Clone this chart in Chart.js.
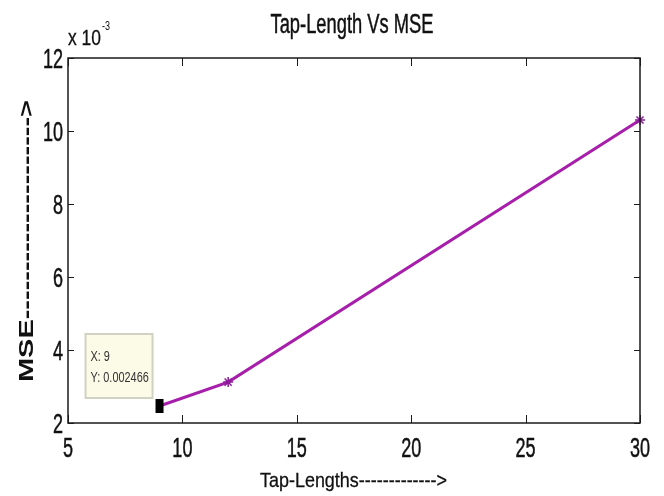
<!DOCTYPE html>
<html><head><meta charset="utf-8">
<script src="https://cdn.jsdelivr.net/npm/chart.js@4"></script>
<style>html,body{margin:0;padding:0;background:#fff}canvas{display:block}</style>
</head><body><canvas id="c" width="664" height="496"></canvas>
<script>
const tapLengths = [9, 12, 30];
const mseValues = [0.002466, 0.00312, 0.01030];
const xTicks = [5, 10, 15, 20, 25, 30];
const yTicks = [0.002, 0.004, 0.006, 0.008, 0.010, 0.012];
const yTickLabels = ['2', '4', '6', '8', '10', '12'];
const titleText = 'Tap-Length Vs MSE';
const xTitle = 'Tap-Lengths------------->';
const yTitle = 'MSE--------------------->';
const expBase = 'x 10', expSup = '-3';
const tipIndex = 0;
const tipLines = ['X: ' + tapLengths[tipIndex], 'Y: ' + mseValues[tipIndex]];

const FONT = '"Liberation Sans", Arial, sans-serif';
function drawText(ctx, s, x, y, o) {
  ctx.save();
  ctx.translate(x, y);
  if (o.rot) ctx.rotate(o.rot);
  ctx.scale(o.sx || 1, o.sy || 1);
  ctx.font = (o.bold ? 'bold ' : '') + o.size + 'px ' + FONT;
  ctx.textAlign = o.align || 'left';
  ctx.textBaseline = 'alphabetic';
  ctx.fillStyle = o.color || '#111';
  ctx.fillText(s, 0, 0);
  if (o.heavy) { ctx.strokeStyle = o.color || '#111'; ctx.lineWidth = o.heavy; ctx.strokeText(s, 0, 0); }
  ctx.restore();
}
function fitText(ctx, s, x, y, width, cap, o) {
  const size = cap / 0.716;
  ctx.save();
  ctx.font = (o.bold ? 'bold ' : '') + size + 'px ' + FONT;
  const w = ctx.measureText(s).width;
  ctx.restore();
  drawText(ctx, s, x, y, Object.assign({}, o, {size: size, sx: width / w, sy: 1}));
}

const decor = {
  id: 'decor',
  afterDraw(chart) {
    const ctx = chart.ctx, a = chart.chartArea;
    const xs = chart.scales.x, ys = chart.scales.y;
    ctx.save();
    ctx.strokeStyle = '#1a1a1a';
    ctx.lineWidth = 1.5;
    ctx.strokeRect(a.left, a.top, a.right - a.left, a.bottom - a.top);
    ctx.lineWidth = 1;
    ctx.beginPath();
    xTicks.forEach(v => {
      const px = Math.round(xs.getPixelForValue(v)) + 0.5;
      ctx.moveTo(px, a.bottom); ctx.lineTo(px, a.bottom - 8);
      ctx.moveTo(px, a.top); ctx.lineTo(px, a.top + 8);
    });
    yTicks.forEach(v => {
      const py = Math.round(ys.getPixelForValue(v)) + 0.5;
      ctx.moveTo(a.left, py); ctx.lineTo(a.left + 6, py);
      ctx.moveTo(a.right, py); ctx.lineTo(a.right - 6, py);
    });
    ctx.stroke();
    ctx.restore();
    xTicks.forEach(v => {
      drawText(ctx, String(v), xs.getPixelForValue(v), a.bottom + 34, {size: 22, sx: 0.82, sy: 1.27, align: 'center', heavy: 0.4});
    });
    yTicks.forEach((v, i) => {
      drawText(ctx, yTickLabels[i], a.left - 5, ys.getPixelForValue(v) + 9.5, {size: 22, sx: 0.82, sy: 1.25, align: 'right', heavy: 0.4});
    });
    fitText(ctx, titleText, 352, 33, 163, 20, {align: 'center', heavy: 0.5});
    fitText(ctx, xTitle, 353.5, 487, 187, 15, {align: 'center', heavy: 0.3});
    fitText(ctx, yTitle, 33, 382, 282, 15, {align: 'left', rot: -Math.PI / 2, bold: true});
    fitText(ctx, expBase, a.left, 45, 33, 16, {align: 'left', heavy: 0.3});
    fitText(ctx, expSup, 102, 30, 8, 9, {align: 'left'});
    const pt = chart.getDatasetMeta(0).data[tipIndex];
    const px = pt.x, py = pt.y;
    const bw = 67, bh = 64;
    const bx = px - 7 - bw, by = py - 8 - bh;
    ctx.save();
    ctx.fillStyle = '#fbfbe8';
    ctx.strokeStyle = '#d2d2c2';
    ctx.lineWidth = 2;
    ctx.fillRect(bx, by, bw, bh);
    ctx.strokeRect(bx, by, bw, bh);
    ctx.restore();
    drawText(ctx, tipLines[0], bx + 5, by + 27, {size: 14, sx: 0.78, sy: 1.0, color: '#333'});
    drawText(ctx, tipLines[1], bx + 5, by + 48, {size: 14, sx: 0.78, sy: 1.0, color: '#333'});
    ctx.save();
    ctx.fillStyle = '#000';
    ctx.fillRect(px - 4, py - 7, 8, 14);
    ctx.restore();
  }
};

new Chart(document.getElementById('c'), {
  type: 'line',
  data: {
    datasets: [{
      data: tapLengths.map((t, i) => ({x: t, y: mseValues[i]})),
      borderColor: '#a61eaa',
      backgroundColor: '#a61eaa',
      borderWidth: 3,
      pointStyle: 'star',
      pointRadius: tapLengths.map((t, i) => i === tipIndex ? 0 : 5),
      pointBorderWidth: 1.5,
      pointBorderColor: '#8a1a9a',
      tension: 0,
      clip: false
    }]
  },
  plugins: [decor],
  options: {
    responsive: false,
    animation: false,
    devicePixelRatio: 1,
    layout: {padding: {left: 0, right: 24, top: 58, bottom: 0}},
    plugins: {legend: {display: false}, tooltip: {enabled: false}, title: {display: false}},
    scales: {
      x: {
        type: 'linear', min: 5, max: 30,
        ticks: {display: false, stepSize: 5},
        grid: {display: false},
        border: {display: false},
        afterFit: s => { s.height = 73; }
      },
      y: {
        type: 'linear', min: 0.002, max: 0.012,
        ticks: {display: false, stepSize: 0.002},
        grid: {display: false},
        border: {display: false},
        afterFit: s => { s.width = 68; }
      }
    }
  }
});
</script>
</body></html>
